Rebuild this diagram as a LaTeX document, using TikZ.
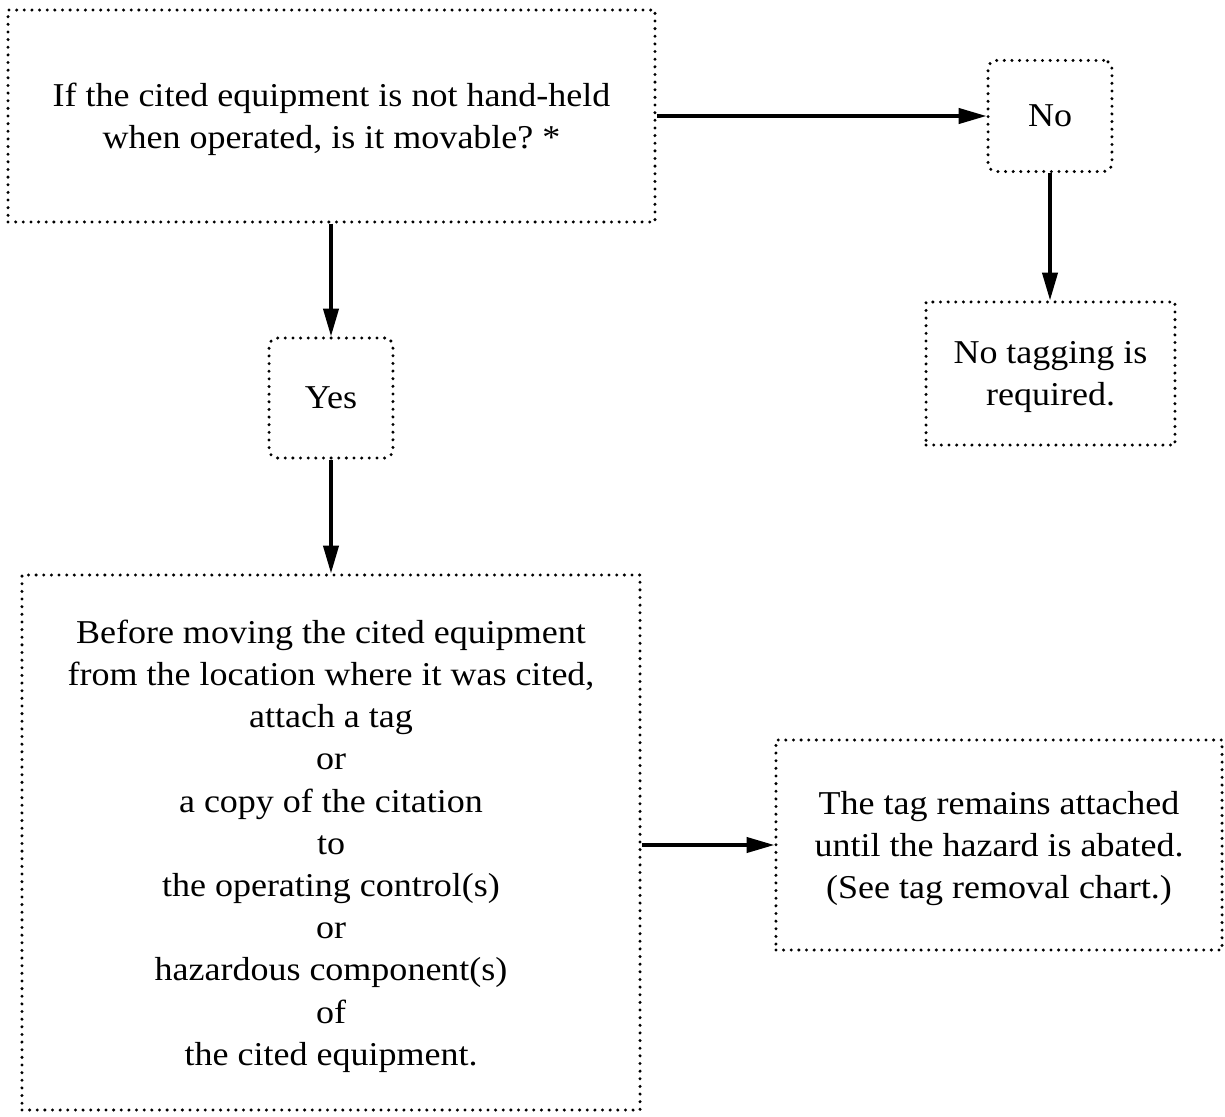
\documentclass[tikz,border=0pt]{standalone}
\usepackage{fontspec}
\setmainfont{Liberation Serif}[FakeStretch=1.08]
\usetikzlibrary{arrows.meta}

\tikzset{
  dotted line/.style={draw, line width=1.2pt, dash pattern=on 0pt off 2.75pt, line cap=round,
    align=center, inner sep=0pt, font=\fontsize{12}{15.2}\selectfont},
  dotbox/.style={dotted line, text depth=-5pt},
  roundbox/.style={dotted line, rounded corners=3pt},
  arr/.style={-{Triangle[length=10pt,width=5.5pt]}, line width=1.2pt}
}

\begin{document}
\begin{tikzpicture}[x=0.36pt, y=-0.36pt]
		\useasboundingbox (0,0) rectangle (1225,1116);
		
		% Draw the nodes
		\node[dotbox, minimum width=232.9pt, minimum height=76.3pt] (Q) at (331.5,116) {If the cited equipment is not hand-held\\when operated, is it movable?\ *};
		\node[roundbox, minimum width=44.6pt, minimum height=40pt] (No) at (1050,116) {No};
		\node[dotbox, minimum width=89.6pt, minimum height=51.5pt] (NoTag) at (1050.5,373.5) {No tagging is\\required.};
		\node[roundbox, minimum width=44.6pt, minimum height=43.2pt] (Yes) at (331,398) {Yes};
		\node[dotbox, minimum width=222.5pt, minimum height=192.6pt] (Move) at (331,842.5) {Before moving the cited equipment\\from the location where it was cited,\\attach a tag\\or\\a copy of the citation\\to\\the operating control(s)\\or\\hazardous component(s)\\of\\the cited equipment.};
		\node[dotbox, minimum width=160.6pt, minimum height=75.6pt] (Tag) at (999,845) {The tag remains attached\\until the hazard is abated.\\(See tag removal chart.)};
		
		% Draw the arrows
		\draw[arr] (Q.east) -- (No.west);
		\draw[arr] (No.south) -- (No.south |- NoTag.north);
		\draw[arr] (Q.south -| Yes.north) -- (Yes.north);
		\draw[arr] (Yes.south) -- (Yes.south |- Move.north);
		\draw[arr] (Move.east |- Tag.west) -- (Tag.west);
	\end{tikzpicture}
\end{document}
